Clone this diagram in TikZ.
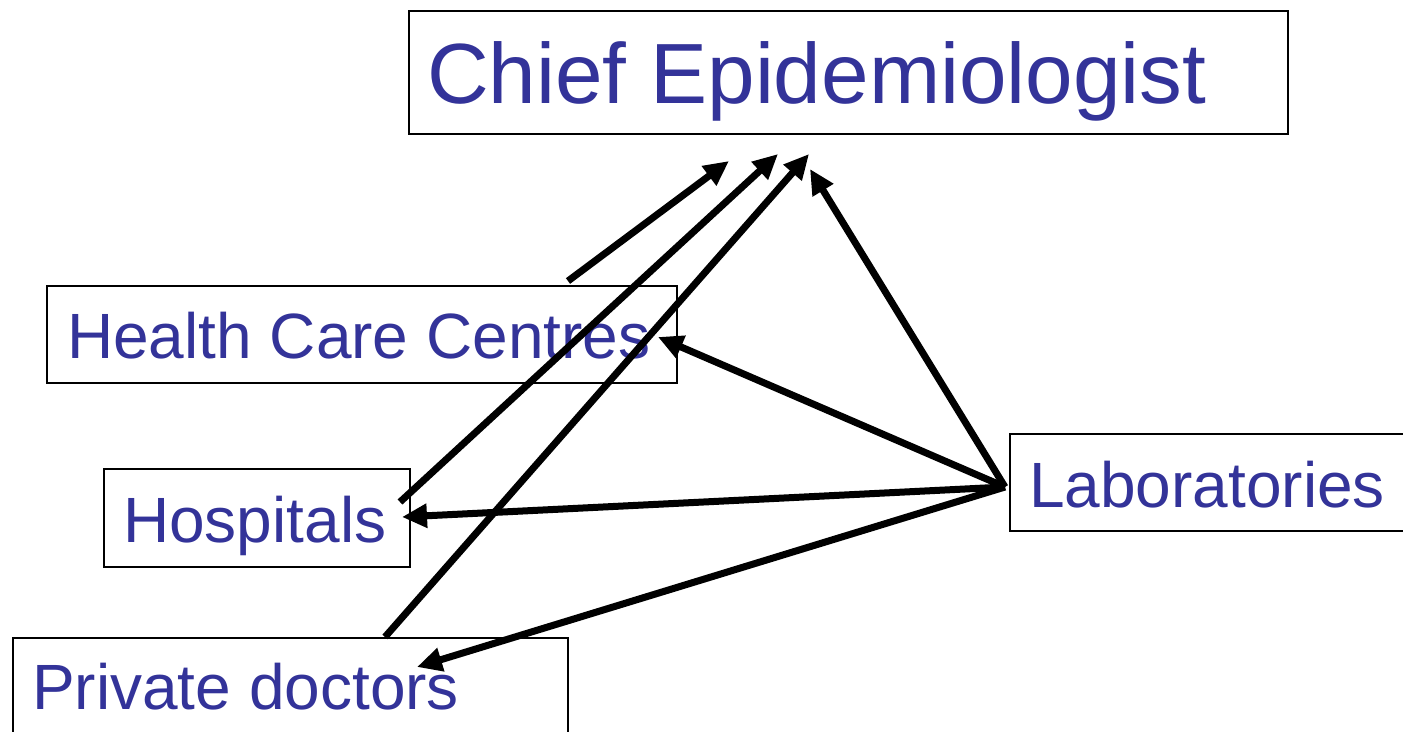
\documentclass[tikz,border=0pt]{standalone}
\usepackage{fontspec}
\setmainfont{Liberation Sans}
\usetikzlibrary{arrows.meta}
\definecolor{txt}{HTML}{333399}
\begin{document}
\begin{tikzpicture}[x=1pt,y=-1pt,
  box/.style={draw=black,line width=1.8pt,rectangle,inner sep=0pt,anchor=north west},
  lbl/.style={text=txt,anchor=base west,inner sep=0pt},
  big/.style={font=\fontsize{85.5}{100}\selectfont},
  med/.style={font=\fontsize{64}{76}\selectfont},
  arr/.style={line width=7pt,-{Triangle[length=25pt,width=23pt]}}]
\useasboundingbox (0,0) rectangle (1403,731);
\clip (0,0) rectangle (1403,731);
% boxes
\node[box,minimum width=879pt,minimum height=123pt] (chiefbox) at (408,10) {};
\node[box,minimum width=630pt,minimum height=97pt] (hccbox) at (46,285) {};
\node[box,minimum width=306pt,minimum height=98pt] (hospbox) at (103,468) {};
\node[box,minimum width=420pt,minimum height=97pt] (labbox) at (1009,433) {};
\node[box,minimum width=555pt,minimum height=130pt] (pdbox) at (12,637) {};
% labels
\node[lbl,big] (chief) at (427,103) {Chief Epidemiologist};
\node[lbl,med] (hcc) at (67,358) {Health Care Centres};
\node[lbl,med] (hosp) at (123,542) {Hospitals};
\node[lbl,med] (lab) at (1029,507) {Laboratories};
\node[lbl,med] (pd) at (32,709) {Private doctors};
% connector points
\coordinate (labsrc) at (1005,487);
\coordinate (hccsrc) at (568,281);
\coordinate (hospsrc) at (400,502);
\coordinate (pdsrc) at (385,637);
\coordinate (t1) at (729,161);
\coordinate (t2) at (778,154);
\coordinate (t3) at (809,154);
\coordinate (t4) at (810,169);
\coordinate (hcctip) at (658,337);
\coordinate (hosptip) at (402,517);
\coordinate (pdtip) at (417,667);
% arrows
\draw[arr] (hccsrc) -- (t1);
\draw[arr] (hospsrc) -- (t2);
\draw[arr] (pdsrc) -- (t3);
\draw[arr] (labsrc) -- (t4);
\draw[arr] (labsrc) -- (hcctip);
\draw[arr] (labsrc) -- (hosptip);
\draw[arr] (labsrc) -- (pdtip);
\end{tikzpicture}
\end{document}
